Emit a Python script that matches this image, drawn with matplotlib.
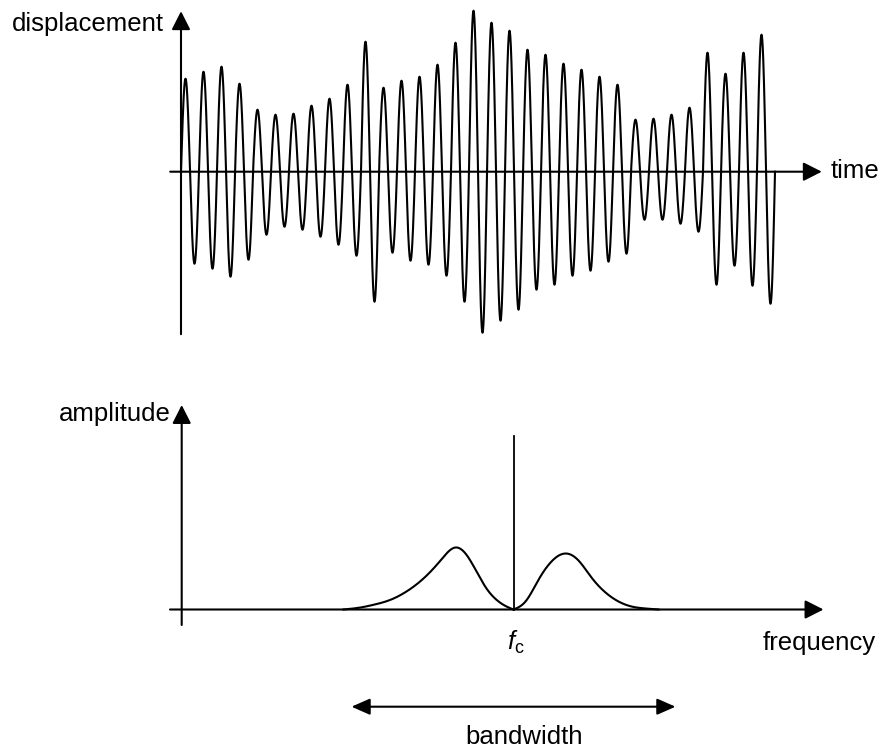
import numpy as np
import matplotlib
matplotlib.use("Agg")
import matplotlib.pyplot as plt

plt.rcParams['font.family'] = ['Liberation Sans', 'DejaVu Sans']
plt.rcParams['mathtext.fontset'] = 'custom'
plt.rcParams['mathtext.rm'] = 'Liberation Sans'
plt.rcParams['mathtext.it'] = 'Liberation Sans:italic'

# ---------------- data ----------------
# top panel: amplitude of each positive lobe and each negative lobe per cycle
peak_amp = [93, 100, 105, 88, 62, 57, 58, 66, 73, 87, 130, 84, 91, 95, 107, 129, 161,
            149, 141, 122, 117, 108, 102, 95, 87, 52, 53, 57, 64, 119, 98, 119, 137]
trough_amp = [92, 97, 105, 88, 63, 55, 58, 65, 73, 84, 130, 81, 89, 93, 104, 130, 161,
              149, 138, 118, 113, 104, 99, 90, 82, 48, 48, 52, 60, 113, 94, 114, 132]

# bottom panel: spectrum samples (offset from carrier frequency, amplitude)
lower_f = [-170, -153, -140, -123, -107, -90, -73, -58, -47, -37, -27, -17, -7, 0]
lower_a = [0, 2, 4.7, 9.7, 18, 31, 49, 62, 54.7, 38, 21, 9.7, 3, 0]
upper_f = [0, 12, 25, 38, 52, 65, 78, 92, 105, 118, 132, 145]
upper_a = [0, 8, 29.7, 48, 56, 49, 32, 17, 8, 3, 1, 0]
carrier_amp = 174
bandwidth = (-162, 162)

labels = dict(disp="displacement", time="time", amp="amplitude",
              freq="frequency", fc=r"$f_{\mathrm{c}}$", bw="bandwidth")


def natural_spline(x, y, xs):
    x = np.asarray(x, float); y = np.asarray(y, float)
    n = len(x); h = np.diff(x)
    A = np.zeros((n, n)); r = np.zeros(n)
    A[0, 0] = A[-1, -1] = 1
    for i in range(1, n - 1):
        A[i, i - 1] = h[i - 1]; A[i, i] = 2 * (h[i - 1] + h[i]); A[i, i + 1] = h[i]
        r[i] = 6 * ((y[i + 1] - y[i]) / h[i] - (y[i] - y[i - 1]) / h[i - 1])
    M = np.linalg.solve(A, r)
    idx = np.clip(np.searchsorted(x, xs) - 1, 0, n - 2)
    hi = h[idx]; a = x[idx + 1] - xs; b = xs - x[idx]
    ys = (M[idx] * a**3 + M[idx + 1] * b**3) / (6 * hi) \
        + (y[idx] / hi - M[idx] * hi / 6) * a + (y[idx + 1] / hi - M[idx + 1] * hi / 6) * b
    return np.clip(ys, 0, None)


W, H = 883, 751
FS = 18.5
fig = plt.figure(figsize=(W / 100, H / 100), dpi=100)

# ---------------- top panel ----------------
top_px = 345
ax1 = fig.add_axes([0, 1 - top_px / H, 1, top_px / H])
ax1.set_xlim(-181 / 18, (W - 181) / 18)
ax1.set_ylim(-(top_px - 171.7), 171.7)
ax1.axis('off')

n = len(peak_amp)
t = np.linspace(0, n, n * 200 + 1)
cyc = np.minimum(np.floor(t).astype(int), n - 1)
frac = t - np.floor(t)
env = np.where(frac < 0.5, np.array(peak_amp)[cyc], np.array(trough_amp)[cyc])
env[-1] = trough_amp[-1]
sig = env * np.sin(2 * np.pi * t)
ax1.plot(t, sig, color='black', lw=1.5, solid_joinstyle='round')

arrow_kw = dict(arrowstyle='-|>,head_length=0.75,head_width=0.38', color='black',
                lw=1.5, shrinkA=0, shrinkB=0, mutation_scale=15)
ax1.annotate('', xy=(0, 160.5), xytext=(0, -162.5), arrowprops=arrow_kw)
ax1.annotate('', xy=(35.6, 0), xytext=(-0.6, 0), arrowprops=arrow_kw)
ax1.text(-0.95, 141, labels['disp'], ha='right', va='baseline', fontsize=FS)
ax1.text(36.1, -6.6, labels['time'], ha='left', va='baseline', fontsize=FS)

# ---------------- bottom panel ----------------
bot_top = 390
ax2 = fig.add_axes([0, 0, 1, (H - bot_top) / H])
ax2.set_xlim(-513.5, W - 513.5)
ax2.set_ylim(-(H - 609.5), 609.5 - bot_top)
ax2.axis('off')

fl = np.linspace(lower_f[0], lower_f[-1], 600)
fu = np.linspace(upper_f[0], upper_f[-1], 600)
ax2.plot(fl, natural_spline(lower_f, lower_a, fl), color='black', lw=1.5)
ax2.plot(fu, natural_spline(upper_f, upper_a, fu), color='black', lw=1.5)
ax2.plot([0, 0], [0, carrier_amp], color='black', lw=1.3)

ax2.annotate('', xy=(-331.8, 204.5), xytext=(-331.8, -15.5), arrowprops=arrow_kw)
ax2.annotate('', xy=(310, 0), xytext=(-343.5, 0), arrowprops=arrow_kw)
ax2.annotate('', xy=(bandwidth[1], -97.2), xytext=(bandwidth[0], -97.2),
             arrowprops=dict(arrowstyle='<|-|>,head_length=0.75,head_width=0.33',
                             color='black', lw=1.5, shrinkA=0, shrinkB=0,
                             mutation_scale=15))

ax2.text(-342.8, 188, labels['amp'], ha='right', va='baseline', fontsize=FS)
ax2.text(249.5, -40.5, labels['freq'], ha='left', va='baseline', fontsize=FS)
ax2.text(2, -40, labels['fc'], ha='center', va='baseline', fontsize=FS)
ax2.text(10.5, -134.5, labels['bw'], ha='center', va='baseline', fontsize=FS)

fig.savefig('out.png', dpi=100)
